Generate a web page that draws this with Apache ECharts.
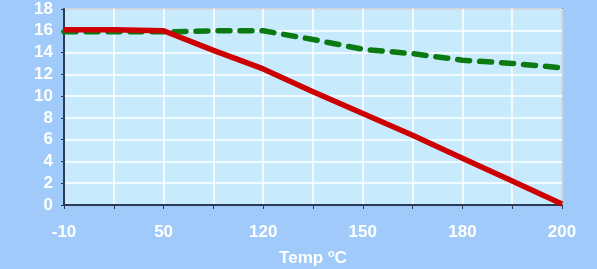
<!DOCTYPE html>
<html><head><meta charset="utf-8">
<script src="https://cdn.jsdelivr.net/npm/echarts@6/dist/echarts.min.js"></script>
<style>html,body{margin:0;padding:0;background:#9fcafa;}#c{width:597px;height:269px;}</style>
</head><body><div id="c"></div>
<script>
var categories = ['-10','','50','','120','','150','','180','','200'];
var redSeries = [16.1, 16.1, 16.0, 14.2, 12.5, 10.4, 8.4, 6.4, 4.3, 2.2, 0.1];
var greenSeries = [15.9, 15.9, 15.9, 16.0, 16.0, 15.2, 14.3, 13.9, 13.3, 13.0, 12.6];
var yTicks = {min: 0, max: 18, interval: 2};

var chart = echarts.init(document.getElementById('c'));
chart.setOption({
  backgroundColor: '#9fcafa',
  animation: false,
  grid: {left: 64, right: 35, top: 9, bottom: 64, outerBoundsMode: 'none', containLabel: false, show: true, backgroundColor: '#c8eafd', borderColor: '#2b3a55', borderWidth: 1.5},
  xAxis: {
    type: 'category', data: categories, boundaryGap: false,
    axisLine: {lineStyle: {color: '#2b3a55', width: 2}},
    axisTick: {show: true, interval: 0, length: 4, lineStyle: {color: '#2b3a55'}},
    axisLabel: {interval: 0, color: '#ffffff', fontFamily: 'Liberation Sans', fontWeight: 'bold', fontSize: 17, margin: 19},
    splitLine: {show: true, interval: 0, lineStyle: {color: '#ffffff', width: 1.5}},
    name: '{t|Temp }{s|o}{t|C}', nameLocation: 'middle', nameGap: 43,
    nameTextStyle: {rich: {
      t: {color: '#ffffff', fontFamily: 'Liberation Sans', fontWeight: 'bold', fontSize: 17},
      s: {color: '#ffffff', fontFamily: 'Liberation Sans', fontWeight: 'bold', fontSize: 11, verticalAlign: 'top', padding: [0, 0, 9, 0]}
    }}
  },
  yAxis: {
    type: 'value', min: yTicks.min, max: yTicks.max, interval: yTicks.interval,
    axisLine: {show: true, lineStyle: {color: '#2b3a55', width: 2}},
    axisTick: {show: true, length: 3, lineStyle: {color: '#2b3a55'}},
    axisLabel: {color: '#ffffff', fontFamily: 'Liberation Sans', fontWeight: 'bold', fontSize: 17, margin: 11},
    splitLine: {show: true, lineStyle: {color: '#ffffff', width: 1.5}}
  },
  series: [
    {type: 'line', data: greenSeries, symbol: 'none', z: 2,
     lineStyle: {color: '#0b7a12', width: 5.5, type: [12, 10], cap: 'round', join: 'round'}},
    {type: 'line', data: redSeries, symbol: 'none', z: 3,
     lineStyle: {color: '#cc0000', width: 5.5, cap: 'butt', join: 'round'}}
  ]
});
</script></body></html>
